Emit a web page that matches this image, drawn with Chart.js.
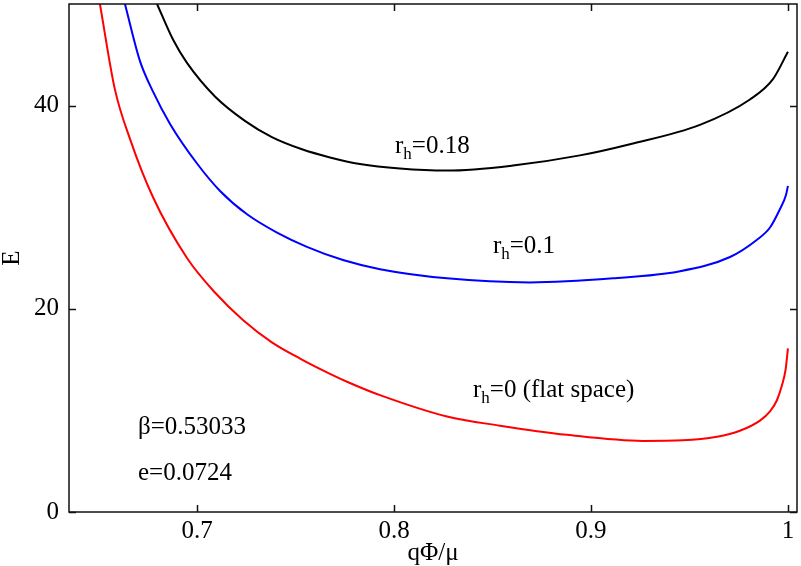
<!DOCTYPE html>
<html>
<head>
<meta charset="utf-8">
<script src="https://cdn.jsdelivr.net/npm/chart.js@4/dist/chart.umd.min.js"></script>
<style>
  html, body { margin: 0; padding: 0; background: #fff; }
  #wrap { width: 801px; height: 566px; }
</style>
</head>
<body>
<div id="wrap"><canvas id="c"></canvas></div>
<script>
/* ---- Daten ---- */
var redX   = [0.6507, 0.6583, 0.666, 0.6776, 0.6949, 0.7091, 0.7233, 0.738, 0.7523, 0.7675, 0.7776, 0.7929, 0.8269, 0.8538, 0.8878, 0.9264, 0.9467, 0.964, 0.9756, 0.9858, 0.9909, 0.9944, 0.997, 0.9988, 1.0];
var redY   = [50.0, 41.6, 36.7, 31.0, 25.0, 21.6, 18.9, 16.7, 15.1, 13.6, 12.7, 11.5, 9.4, 8.5, 7.6, 7.0, 7.05, 7.4, 8.0, 9.0, 9.9, 11.0, 12.5, 14.0, 16.1];

var blueX  = [0.6634, 0.671, 0.6776, 0.6863, 0.7, 0.7117, 0.7254, 0.7406, 0.7558, 0.7741, 0.7929, 0.8269, 0.869, 0.9112, 0.9452, 0.9706, 0.9843, 0.9909, 0.9959, 0.999, 1.0];
var blueY  = [50.0, 44.4, 41.4, 38.2, 34.3, 31.6, 29.3, 27.5, 26.1, 24.8, 23.9, 23.0, 22.6, 23.0, 23.7, 25.1, 26.8, 28.0, 29.8, 31.2, 32.1];

var blackX = [0.6797, 0.6878, 0.6949, 0.7091, 0.7243, 0.738, 0.7533, 0.7675, 0.7827, 0.803, 0.8269, 0.8604, 0.8944, 0.9198, 0.9553, 0.9807, 0.9924, 1.0];
var blackY = [50.0, 46.5, 44.2, 40.9, 38.5, 36.9, 35.7, 34.9, 34.25, 33.8, 33.6, 34.1, 35.1, 36.2, 38.1, 40.6, 42.6, 45.3];

var xMin = 0.635, xMax = 1.0046, xStep = 0.1;
var yMin = 0, yMax = 50, yStep = 20;

var FONT = '"Liberation Serif", "DejaVu Serif", serif';

function zip(xs, ys) {
    return xs.map(function (x, i) { return { x: x, y: ys[i] }; });
}

/* Beschriftungen im Plotbereich: [Hauptteil, Index, Rest, x, y] */
var notes = [
    ['r', 'h', '=0.18', 0.8005, 35.37],
    ['r', 'h', '=0.1', 0.8502, 25.52],
    ['r', 'h', '=0 (flat space)', 0.8401, 11.33],
    ['\u03b2=0.53033', '', '', 0.670, 7.68],
    ['e=0.0724', '', '', 0.670, 3.15]
];

/* Rahmen, nach innen zeigende Ticks, Texte */
var framePlugin = {
    id: 'frame',
    afterDatasetsDraw: function (chart) {
        var ctx = chart.ctx, a = chart.chartArea;
        var xs = chart.scales.x, ys = chart.scales.y;
        var tl = 7;
        ctx.save();
        ctx.strokeStyle = '#111';
        ctx.lineWidth = 1.5;
        ctx.strokeRect(a.left, a.top, a.right - a.left, a.bottom - a.top);
        ctx.beginPath();
        xs.ticks.forEach(function (t) {
            var px = Math.round(xs.getPixelForValue(t.value)) + 0.5;
            ctx.moveTo(px, a.bottom); ctx.lineTo(px, a.bottom - tl);
            ctx.moveTo(px, a.top);    ctx.lineTo(px, a.top + tl);
        });
        ys.ticks.forEach(function (t) {
            var py = Math.round(ys.getPixelForValue(t.value)) + 0.5;
            ctx.moveTo(a.left, py);  ctx.lineTo(a.left + tl, py);
            ctx.moveTo(a.right, py); ctx.lineTo(a.right - tl, py);
        });
        ctx.stroke();

        ctx.fillStyle = '#000';
        ctx.textBaseline = 'alphabetic';
        ctx.textAlign = 'left';
        notes.forEach(function (n) {
            var px = xs.getPixelForValue(n[3]);
            var py = ys.getPixelForValue(n[4]);
            ctx.font = '25px ' + FONT;
            ctx.fillText(n[0], px, py);
            px += ctx.measureText(n[0]).width;
            if (n[1]) {
                ctx.font = '17px ' + FONT;
                ctx.fillText(n[1], px, py + 6);
                px += ctx.measureText(n[1]).width;
            }
            if (n[2]) {
                ctx.font = '25px ' + FONT;
                ctx.fillText(n[2], px, py);
            }
        });
        ctx.restore();
    }
};

function line(xs, ys, color) {
    return {
        data: zip(xs, ys),
        borderColor: color,
        backgroundColor: color,
        borderWidth: 2,
        pointRadius: 0,
        showLine: true,
        fill: false,
        cubicInterpolationMode: 'monotone'
    };
}

new Chart(document.getElementById('c'), {
    type: 'scatter',
    data: {
        datasets: [
            line(blackX, blackY, '#000000'),
            line(blueX, blueY, '#0000ff'),
            line(redX, redY, '#ff0000')
        ]
    },
    options: {
        responsive: true,
        maintainAspectRatio: false,
        devicePixelRatio: 1,
        animation: false,
        layout: { padding: { top: 4, right: 4, left: 0, bottom: 0 } },
        plugins: {
            legend: { display: false },
            tooltip: { enabled: false }
        },
        scales: {
            x: {
                type: 'linear',
                min: xMin, max: xMax,
                grid: { display: false, drawTicks: false },
                border: { display: false },
                ticks: {
                    stepSize: xStep,
                    includeBounds: false,
                    padding: 4,
                    color: '#000',
                    font: { family: FONT, size: 25 },
                    maxRotation: 0,
                    callback: function (v) { return String(+v.toFixed(2)); }
                },
                title: {
                    display: true,
                    text: 'q\u03a6/\u03bc',
                    color: '#000',
                    font: { family: FONT, size: 25, lineHeight: 1.0 },
                    padding: 0
                },
                afterFit: function (s) {
                    s.height = 54;
                    s.paddingLeft = 0; s.paddingRight = 0;
                }
            },
            y: {
                type: 'linear',
                min: yMin, max: yMax,
                grid: { display: false, drawTicks: false },
                border: { display: false },
                ticks: {
                    stepSize: yStep,
                    includeBounds: false,
                    padding: 10,
                    color: '#000',
                    font: { family: FONT, size: 25 }
                },
                title: {
                    display: true,
                    text: 'E',
                    color: '#000',
                    font: { family: FONT, size: 25, lineHeight: 1.0 },
                    padding: 0
                },
                afterFit: function (s) {
                    s.width = 69;
                    s.paddingTop = 0; s.paddingBottom = 0;
                }
            }
        }
    },
    plugins: [framePlugin]
});
</script>
</body>
</html>
